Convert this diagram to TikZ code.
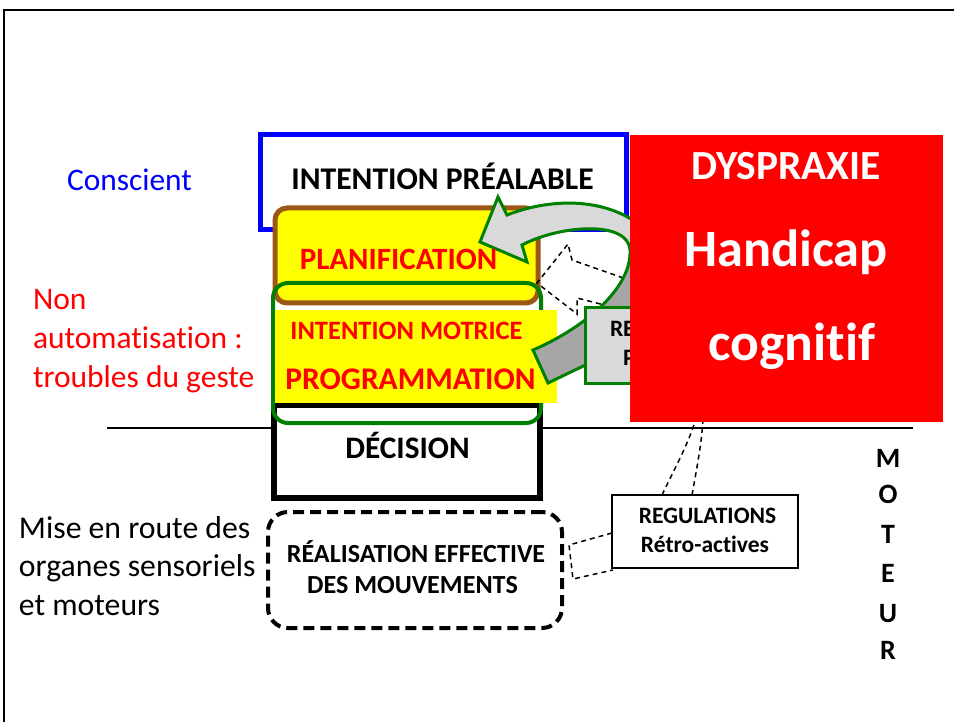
\documentclass[tikz,border=0pt]{standalone}
\usepackage{fontspec}
\setmainfont{Carlito}[Ligatures=NoCommon]
\usetikzlibrary{calc}
\definecolor{myred}{RGB}{255,0,0}
\definecolor{myblue}{RGB}{0,0,255}
\definecolor{mygreen}{RGB}{0,128,0}
\definecolor{mybrown}{RGB}{156,87,20}
\definecolor{myyellow}{RGB}{255,255,0}
\definecolor{lgray}{RGB}{217,217,217}
\definecolor{dgray}{RGB}{166,166,166}
\newcommand{\ArrowPath}{(480,242) -- (498,197) -- (507,215) .. controls (545,200) and (600,195) .. (640,225) .. controls (690,265) and (660,330) .. (600,358) -- (548,383) -- (533,350) .. controls (580,330) and (632,290) .. (630,250) .. controls (628,220) and (560,225) .. (522,245) -- (527,262) -- cycle}
\tikzset{
  rbox/.style={inner sep=0pt, outer sep=0pt},
  txt/.style={inner sep=0pt, outer sep=0pt, anchor=base},
  ltxt/.style={inner sep=0pt, outer sep=0pt, anchor=base west},
  thindash/.style={draw=black, line width=1.5pt, dash pattern=on 5pt off 4pt},
}
\begin{document}
\begin{tikzpicture}[x=1pt,y=-1pt]
\useasboundingbox (0,0) rectangle (954,722);
% frame
\draw[line width=2.5pt] (4,722) -- (4,10) -- (954,10);
% horizontal separator
\coordinate (hl) at (107,428);
\coordinate (hr) at (913,428);
\draw[line width=2pt] (hl) -- (hr);
% boxes
\node[rbox, draw=myblue, line width=5pt, minimum width=366pt, minimum height=95pt] (intent) at (443,182.5) {};
\node[rbox, draw=black, fill=white, line width=6pt, minimum width=266pt, minimum height=93pt] (decision) at (407,451.5) {};
\node[rbox, draw=mybrown, fill=myyellow, line width=5pt, rounded corners=12pt, minimum width=263pt, minimum height=95pt] (planif) at (406.5,255.5) {};
\node[rbox, draw=mygreen, line width=4pt, rounded corners=15pt, minimum width=268pt, minimum height=140pt] (greenbox) at (407,353) {};
\node[rbox, fill=myyellow, minimum width=282pt, minimum height=93pt] (yellow) at (416,356.5) {};
% dashed pro-active outline (behind curved arrow)
\coordinate (pa1) at (632,281);
\coordinate (pa2) at (572,260);
\coordinate (pa3) at (568,244);
\coordinate (pa4) at (537,283);
\coordinate (pa5) at (577,314);
\coordinate (pa6) at (577,298);
\coordinate (pa7) at (620,309);
\draw[thindash] (pa1) -- (pa2) -- (pa3) -- (pa4) -- (pa5) -- (pa6) -- (pa7);
% curved arrow
\fill[lgray] \ArrowPath;
\begin{scope}
  \clip \ArrowPath;
  \fill[dgray] (610,250) -- (720,250) -- (720,430) -- (500,430) -- (500,365) -- cycle;
\end{scope}
\draw[mygreen, line width=3pt, line join=miter] \ArrowPath;
% pro-active regulation box (partly hidden)
\node[rbox, draw=mygreen, fill=lgray, line width=3pt, minimum width=186pt, minimum height=75pt] (regp) at (678,345.5) {};
\node[ltxt, font=\bfseries\fontsize{23.5}{28}\selectfont] (regp1) at (610,337) {RE};
\node[ltxt, font=\bfseries\fontsize{23.5}{28}\selectfont] (regp2) at (623,365) {P};
% retro-active regulation box
\node[rbox, draw=black, fill=white, line width=2.5pt, minimum width=186pt, minimum height=73pt] (regr) at (705,531.5) {};
% dashed connectors red box -> regr
\coordinate (c1a) at (696,418);
\coordinate (c2a) at (703,418);
\draw[thindash] ($(regr.north west)+(50,0)$) .. controls (678,462) and (690,440) .. (c1a);
\draw[thindash] ($(regr.north west)+(80,0)$) .. controls (698,462) and (702,440) .. (c2a);
% red box
\node[rbox, fill=myred, minimum width=313pt, minimum height=287pt] (red) at (786.5,278.5) {};
\node[txt, text=white, font=\bfseries\fontsize{41.4}{48}\selectfont] (dys) at (786,180) {DYSPRAXIE};
\node[txt, text=white, font=\bfseries\fontsize{52.4}{60}\selectfont] (hand) at (786,267) {Handicap};
\node[txt, text=white, font=\bfseries\fontsize{53.5}{60}\selectfont] (cog) at (792,360) {cognitif};
% realisation box
\node[rbox, draw=black, line width=4pt, rounded corners=20pt, dash pattern=on 11pt off 6pt, minimum width=294pt, minimum height=116pt] (real) at (415,570) {};
% bracket connector regr -> real
\coordinate (b1) at (569,545);
\coordinate (b2) at (573,579);
\draw[thindash] ($(regr.north west)+(0,38)$) -- (b1) -- (b2) -- ($(regr.north west)+(1,75)$);
% box texts
\node[txt, font=\bfseries\fontsize{31.6}{38}\selectfont] (t1) at (442.5,190) {INTENTION PRÉALABLE};
\node[txt, text=myred, font=\bfseries\fontsize{31}{38}\selectfont] (t2) at (398.5,270) {PLANIFICATION};
\node[txt, text=myred, font=\bfseries\fontsize{26.5}{32}\selectfont] (t3) at (406.5,340) {INTENTION MOTRICE};
\node[txt, text=myred, font=\bfseries\fontsize{31.5}{38}\selectfont] (t4) at (410.5,389) {PROGRAMMATION};
\node[txt, font=\bfseries\fontsize{31.3}{38}\selectfont] (t5) at (407.5,458) {DÉCISION};
\node[txt, font=\bfseries\fontsize{26.1}{32}\selectfont] (t6) at (416,562) {RÉALISATION EFFECTIVE};
\node[txt, font=\bfseries\fontsize{26.1}{32}\selectfont] (t7) at (412.5,593) {DES MOUVEMENTS};
\node[txt, font=\bfseries\fontsize{23.5}{28}\selectfont] (t8) at (707.5,523) {REGULATIONS};
\node[txt, font=\bfseries\fontsize{23.5}{28}\selectfont] (t9) at (705,552) {Rétro-actives};
% left texts
\node[txt, text=myblue, font=\fontsize{31.4}{38}\selectfont] (consc) at (129.5,191) {Conscient};
\node[ltxt, text=myred, font=\fontsize{31.5}{38}\selectfont] (na1) at (33,310) {Non};
\node[ltxt, text=myred, font=\fontsize{31.5}{38}\selectfont] (na2) at (33,348.5) {automatisation :};
\node[ltxt, text=myred, font=\fontsize{31.5}{38}\selectfont] (na3) at (33,387) {troubles du geste};
\node[ltxt, font=\fontsize{31.7}{38}\selectfont] (mr1) at (19,538) {Mise en route des};
\node[ltxt, font=\fontsize{31.7}{38}\selectfont] (mr2) at (19,576.5) {organes sensoriels};
\node[ltxt, font=\fontsize{31.7}{38}\selectfont] (mr3) at (19,615) {et moteurs};
% MOTEUR
\foreach \l/\yy [count=\i] in {M/467,O/503,T/543,E/582,U/622,R/659}
  \node[txt, font=\bfseries\fontsize{28}{34}\selectfont] (mot\i) at (888,\yy) {\l};
\end{tikzpicture}
\end{document}
